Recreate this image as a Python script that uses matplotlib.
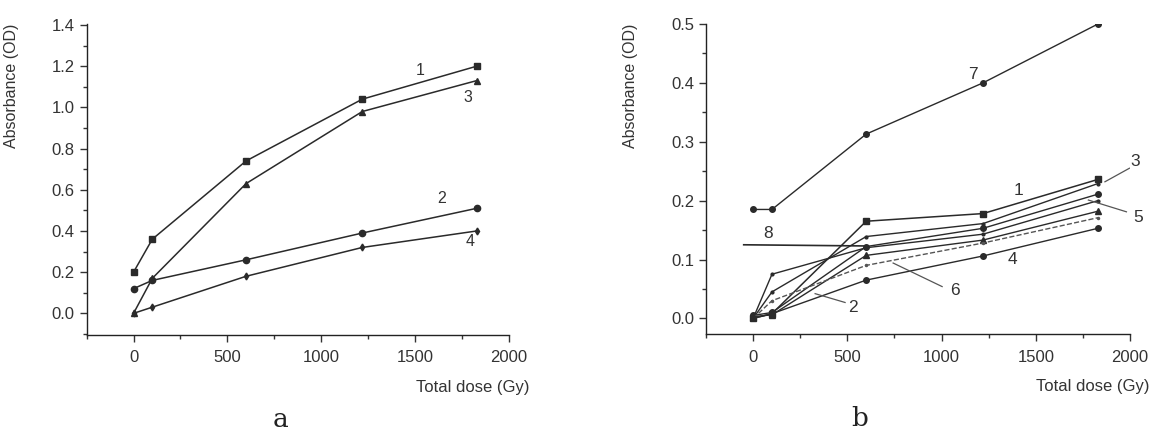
import matplotlib
matplotlib.use('Agg')
import matplotlib.pyplot as plt
from matplotlib.ticker import MultipleLocator, FormatStrFormatter

plt.rcParams['font.family'] = ['Liberation Sans', 'DejaVu Sans']

# Datos - panel a
dosis = [0, 100, 600, 1220, 1830]
a_s1 = [0.20, 0.36, 0.74, 1.04, 1.20]
a_s2 = [0.12, 0.16, 0.26, 0.39, 0.51]
a_s3 = [0.00, 0.17, 0.63, 0.98, 1.13]
a_s4 = [0.00, 0.03, 0.18, 0.32, 0.40]

# Datos - panel b
b_s1 = [0.000, 0.008, 0.165, 0.178, 0.236]
b_s2 = [0.003, 0.006, 0.107, 0.133, 0.182]
b_s3 = [0.000, 0.045, 0.139, 0.161, 0.229]
b_s4 = [0.000, 0.008, 0.065, 0.106, 0.153]
b_s5 = [0.000, 0.075, 0.120, 0.143, 0.200]
b_s6 = [0.000, 0.030, 0.090, 0.128, 0.171]
b_s7 = [0.185, 0.185, 0.313, 0.400, 0.500]
b_s8 = [0.005, 0.010, 0.122, 0.153, 0.211]

col = '#2a2a2a'

fig = plt.figure(figsize=(11.54, 4.36), dpi=100, facecolor='white')
ax_a = fig.add_axes([0.0751, 0.2317, 0.3656, 0.7133])
ax_b = fig.add_axes([0.6118, 0.2333, 0.3674, 0.7117])


def estilo(ax, ymin, ymax, ymaj, ymin_step, fmt):
    ax.set_xlim(-250, 2000)
    ax.set_ylim(ymin, ymax)
    for s in ['top', 'right']:
        ax.spines[s].set_visible(False)
    for s in ['left', 'bottom']:
        ax.spines[s].set_linewidth(1.0)
        ax.spines[s].set_color('#222222')
    ax.xaxis.set_major_locator(MultipleLocator(500))
    ax.xaxis.set_minor_locator(MultipleLocator(250))
    ax.yaxis.set_major_locator(MultipleLocator(ymaj))
    ax.yaxis.set_minor_locator(MultipleLocator(ymin_step))
    ax.yaxis.set_major_formatter(FormatStrFormatter(fmt))
    ax.tick_params(which='major', direction='out', length=5, width=1,
                   labelsize=12, colors='#333333')
    ax.tick_params(axis='x', which='major', pad=6)
    ax.tick_params(which='minor', direction='out', length=3, width=1,
                   colors='#333333')
    ax.set_ylabel('Absorbance (OD)', fontsize=11.5, color='#333333', loc='top')
    ax.set_xlabel('Total dose (Gy)', fontsize=12, color='#333333', loc='right')


# Panel a
ax_a.plot(dosis, a_s1, color=col, lw=1.1, marker='s', ms=4.5)
ax_a.plot(dosis, a_s3, color=col, lw=1.1, marker='^', ms=4.5)
ax_a.plot(dosis, a_s2, color=col, lw=1.1, marker='o', ms=4.5)
ax_a.plot(dosis, a_s4, color=col, lw=1.1, marker='d', ms=3.5)
estilo(ax_a, -0.105, 1.405, 0.2, 0.1, '%.1f')
ax_a.yaxis.set_label_coords(-0.16, 1.0)
ax_a.xaxis.set_label_coords(1.05, -0.145)

for txt, x, y in [('1', 1530, 1.18), ('3', 1782, 1.05),
                  ('2', 1643, 0.56), ('4', 1794, 0.35)]:
    ax_a.text(x, y, txt, fontsize=11.5, color='#333333', ha='center', va='center')

# Panel b
ax_b.plot(dosis, b_s7, color=col, lw=1.0, marker='o', ms=4)
ax_b.plot(dosis, b_s1, color=col, lw=1.1, marker='s', ms=4.5)
ax_b.plot(dosis, b_s3, color=col, lw=1.0, marker='.', ms=4)
ax_b.plot(dosis, b_s8, color=col, lw=1.0, marker='o', ms=4)
ax_b.plot(dosis, b_s5, color=col, lw=1.0, marker='.', ms=4)
ax_b.plot(dosis, b_s2, color=col, lw=1.0, marker='^', ms=4.5)
ax_b.plot(dosis, b_s6, color='#555555', lw=1.0, ls='--', marker='.', ms=3)
ax_b.plot(dosis, b_s4, color=col, lw=1.0, marker='o', ms=4)
estilo(ax_b, -0.027, 0.5, 0.1, 0.05, '%.1f')
ax_b.yaxis.set_label_coords(-0.16, 1.0)
ax_b.xaxis.set_label_coords(1.045, -0.145)

# etiquetas y lineas guia del panel b
ax_b.plot([-50, 600], [0.125, 0.123], color=col, lw=1.2)
ax_b.plot([1867, 1997], [0.232, 0.255], color='#555555', lw=0.9)
ax_b.plot([1779, 1981], [0.201, 0.181], color='#555555', lw=0.9)
ax_b.plot([743, 1003], [0.094, 0.054], color='#555555', lw=0.9)
ax_b.plot([329, 488], [0.042, 0.027], color='#555555', lw=0.9)
for txt, x, y in [('7', 1165, 0.415), ('1', 1407, 0.218), ('3', 2026, 0.266),
                  ('5', 2044, 0.172), ('4', 1374, 0.100), ('6', 1071, 0.048),
                  ('2', 532, 0.019), ('8', 78, 0.144)]:
    ax_b.text(x, y, txt, fontsize=12.5, color='#333333', ha='center', va='center',
              clip_on=False)

# letras de los paneles
fig.text(281 / 1154, 1 - 419 / 436, 'a', fontsize=19, color='#222222',
         ha='center', va='center', family='DejaVu Serif')
fig.text(860 / 1154, 1 - 418 / 436, 'b', fontsize=19, color='#222222',
         ha='center', va='center', family='DejaVu Serif')

plt.savefig('out.png', dpi=100, facecolor='white')
